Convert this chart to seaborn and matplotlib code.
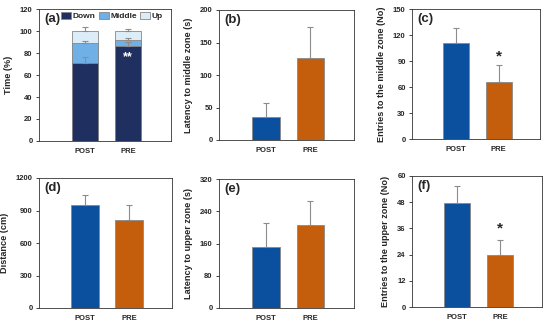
import matplotlib
matplotlib.use("Agg")
import matplotlib.pyplot as plt
import seaborn as sns
import pandas as pd
import numpy as np

sns.set_theme(style="white")
plt.rcParams['font.family'] = ['Liberation Sans', 'DejaVu Sans']

groups = ["POST", "PRE"]

# (a) stacked time (%)
down = [71, 86]
middle = [18.5, 5.5]
up = [10.5, 8.5]
down_err = [5, 4]
middle_err = [1.5, 2]
up_err = [4, 2]

# (b)-(f)
lat_middle = [35, 126]
lat_middle_err = [22, 48]
ent_middle = [111, 66]
ent_middle_err = [17, 19]
distance = [950, 815]
distance_err = [95, 140]
lat_upper = [152, 205]
lat_upper_err = [58, 60]
ent_upper = [47.5, 24]
ent_upper_err = [8, 6.5]

BLUE = "#0b4f9f"
ORANGE = "#c55e0c"
NAVY = "#1f3060"
LBLUE = "#6fb0e6"
VLBLUE = "#dcedf8"
ERR = "#8c8c8c"

W, H = 550, 326
fig = plt.figure(figsize=(W / 100, H / 100), dpi=100)


def add_ax(l, t, r, b):
    return fig.add_axes([l / W, 1 - b / H, (r - l) / W, (b - t) / H])


def style(ax, ylabel, ylim, step, label):
    ax.set_ylim(0, ylim)
    ax.set_yticks(np.arange(0, ylim + step / 2, step))
    ax.set_xlim(-1.05, 1.98)
    ax.set_ylabel(ylabel, fontsize=6.6, fontweight="bold", labelpad=5)
    ax.set_xlabel("")
    ax.tick_params(axis="y", direction="out", length=2.5, width=0.6, labelsize=5.5, pad=2, left=True)
    ax.tick_params(axis="x", length=0, labelsize=5.5, pad=5)
    for t in ax.get_yticklabels() + ax.get_xticklabels():
        t.set_fontweight("bold")
    for s in ax.spines.values():
        s.set_linewidth(0.6)
        s.set_color("#333333")
    ax.text(0.04, 0.97, label, transform=ax.transAxes, fontsize=9.5, fontweight="bold",
            va="top", ha="left")


def err(ax, tops, errs):
    ax.errorbar([0, 1], tops, yerr=[[0, 0], errs], fmt="none", ecolor=ERR,
                elinewidth=0.8, capsize=2, capthick=0.8, zorder=3)


def simple(ax, vals, errs, ylabel, ylim, step, label):
    df = pd.DataFrame({"group": groups, "value": vals})
    sns.barplot(data=df, x="group", y="value", hue="group", palette=[BLUE, ORANGE],
                order=groups, width=0.62, errorbar=None, legend=False, saturation=1,
                edgecolor="#888888", linewidth=0.6, ax=ax, zorder=2)
    err(ax, vals, errs)
    style(ax, ylabel, ylim, step, label)


# (a)
ax = add_ax(39, 9, 171, 141)
tot_mid = [d + m for d, m in zip(down, middle)]
tot_up = [d + m + u for d, m, u in zip(down, middle, up)]
for vals, col, name in [(tot_up, VLBLUE, "Up"), (tot_mid, LBLUE, "Middle"), (down, NAVY, "Down")]:
    df = pd.DataFrame({"group": groups, "value": vals})
    sns.barplot(data=df, x="group", y="value", color=col, order=groups, width=0.6,
                errorbar=None, saturation=1, edgecolor="#888888", linewidth=0.6,
                ax=ax, zorder=2, label=name)
err(ax, down, down_err)
err(ax, tot_mid, middle_err)
err(ax, tot_up, up_err)
ax.text(1, 76, "**", ha="center", va="center", color="white", fontsize=9,
        fontweight="bold", zorder=5)
style(ax, "Time (%)", 120, 20, "(a)")
handles, labels = ax.get_legend_handles_labels()
order = [labels.index(n) for n in ["Down", "Middle", "Up"]]
leg = ax.legend([handles[i] for i in order], [labels[i] for i in order], ncol=3,
                loc="center left", bbox_to_anchor=(0.165, 0.945), frameon=False,
                fontsize=6, handlelength=1.2, handleheight=0.8, handletextpad=0.2,
                columnspacing=0.4, borderaxespad=0.0, borderpad=0.0)
for t in leg.get_texts():
    t.set_fontweight("bold")

# (b)
ax = add_ax(219, 10, 354, 140)
simple(ax, lat_middle, lat_middle_err, "Latency to middle zone (s)", 200, 50, "(b)")

# (c)
ax = add_ax(412, 9, 540, 139)
simple(ax, ent_middle, ent_middle_err, "Entries to the middle zone (No)", 150, 30, "(c)")
ax.text(1, 95, "*", ha="center", va="center", fontsize=11, fontweight="bold")

# (d)
ax = add_ax(39, 178, 172, 308)
simple(ax, distance, distance_err, "Distance (cm)", 1200, 300, "(d)")

# (e)
ax = add_ax(219, 179, 354, 308)
simple(ax, lat_upper, lat_upper_err, "Latency to upper zone (s)", 320, 80, "(e)")

# (f)
ax = add_ax(412, 176, 542, 307)
simple(ax, ent_upper, ent_upper_err, "Entries to the upper zone (No)", 60, 12, "(f)")
ax.text(1, 36, "*", ha="center", va="center", fontsize=11, fontweight="bold")

fig.savefig("out.png", dpi=100)
